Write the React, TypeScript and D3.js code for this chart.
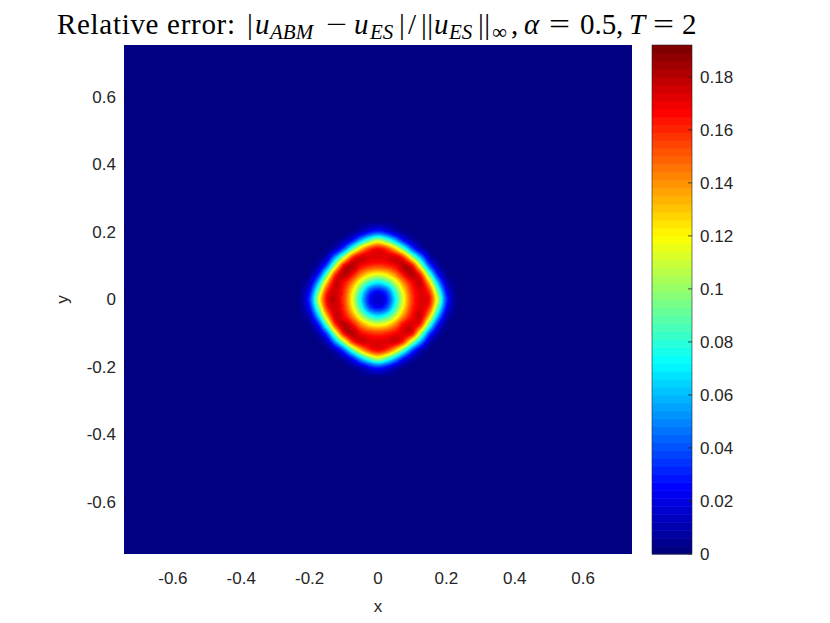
import React, { useMemo } from 'react';
import * as d3 from 'd3';

// ---------- data ----------
const xTicks = [-0.6, -0.4, -0.2, 0, 0.2, 0.4, 0.6];
const yTicks = [-0.6, -0.4, -0.2, 0, 0.2, 0.4, 0.6];
const colorTicks = [0, 0.02, 0.04, 0.06, 0.08, 0.1, 0.12, 0.14, 0.16, 0.18];
const xDomain = [-0.743, 0.743];
const yDomain = [-0.754, 0.754];
const colorMax = 0.192;

// grid node coordinates (x left->right, y top->bottom); outside the grid the error is 0
const gridX = [-0.225, -0.2, -0.175, -0.15, -0.125, -0.1, -0.075, -0.05, -0.025, 0, 0.025, 0.05, 0.075, 0.1, 0.125, 0.15, 0.175, 0.2, 0.225];
const gridY = [0.225, 0.2, 0.175, 0.15, 0.125, 0.1, 0.075, 0.05, 0.025, 0, -0.025, -0.05, -0.075, -0.1, -0.125, -0.15, -0.175, -0.2, -0.225];

// relative error estimated at grid nodes (rows follow gridY, columns follow gridX)
const errorGrid: number[][] = [
  [0, 0, 0, 0, 0, 0, 0.001, 0.003, 0.005, 0.006, 0.005, 0.003, 0.001, 0, 0, 0, 0, 0, 0],
  [0, 0, 0, 0, 0, 0.002, 0.005, 0.013, 0.026, 0.035, 0.026, 0.013, 0.005, 0.002, 0, 0, 0, 0, 0],
  [0, 0, 0, 0.001, 0.003, 0.01, 0.028, 0.06, 0.09, 0.108, 0.09, 0.06, 0.028, 0.01, 0.003, 0.001, 0, 0, 0],
  [0, 0, 0.001, 0.003, 0.013, 0.041, 0.088, 0.13, 0.157, 0.167, 0.157, 0.13, 0.088, 0.041, 0.013, 0.003, 0.001, 0, 0],
  [0, 0, 0.003, 0.013, 0.055, 0.106, 0.157, 0.175, 0.172, 0.172, 0.172, 0.175, 0.157, 0.106, 0.055, 0.013, 0.003, 0, 0],
  [0, 0.002, 0.01, 0.041, 0.106, 0.167, 0.18, 0.167, 0.16, 0.157, 0.16, 0.167, 0.18, 0.167, 0.106, 0.041, 0.01, 0.002, 0],
  [0.001, 0.005, 0.028, 0.088, 0.157, 0.18, 0.168, 0.143, 0.124, 0.117, 0.124, 0.143, 0.168, 0.18, 0.157, 0.088, 0.028, 0.005, 0.001],
  [0.003, 0.013, 0.06, 0.13, 0.175, 0.167, 0.143, 0.109, 0.082, 0.07, 0.082, 0.109, 0.143, 0.167, 0.175, 0.13, 0.06, 0.013, 0.003],
  [0.005, 0.026, 0.09, 0.157, 0.176, 0.16, 0.124, 0.082, 0.04, 0.027, 0.04, 0.082, 0.124, 0.16, 0.172, 0.157, 0.09, 0.026, 0.005],
  [0.006, 0.035, 0.108, 0.167, 0.177, 0.157, 0.117, 0.07, 0.027, 0.015, 0.027, 0.07, 0.117, 0.157, 0.172, 0.167, 0.108, 0.035, 0.006],
  [0.005, 0.026, 0.09, 0.157, 0.176, 0.16, 0.124, 0.082, 0.04, 0.027, 0.04, 0.082, 0.124, 0.16, 0.172, 0.157, 0.09, 0.026, 0.005],
  [0.003, 0.013, 0.06, 0.13, 0.175, 0.167, 0.143, 0.109, 0.082, 0.07, 0.082, 0.109, 0.143, 0.167, 0.175, 0.13, 0.06, 0.013, 0.003],
  [0.001, 0.005, 0.028, 0.088, 0.157, 0.18, 0.168, 0.143, 0.124, 0.117, 0.124, 0.143, 0.168, 0.172, 0.157, 0.088, 0.028, 0.005, 0.001],
  [0, 0.002, 0.01, 0.041, 0.106, 0.167, 0.18, 0.167, 0.16, 0.157, 0.16, 0.167, 0.172, 0.167, 0.106, 0.041, 0.01, 0.002, 0],
  [0, 0, 0.003, 0.013, 0.055, 0.106, 0.157, 0.175, 0.172, 0.172, 0.172, 0.175, 0.157, 0.106, 0.055, 0.013, 0.003, 0, 0],
  [0, 0, 0.001, 0.003, 0.013, 0.041, 0.088, 0.13, 0.157, 0.167, 0.157, 0.13, 0.088, 0.041, 0.013, 0.003, 0.001, 0, 0],
  [0, 0, 0, 0.001, 0.003, 0.01, 0.028, 0.06, 0.09, 0.108, 0.09, 0.06, 0.028, 0.01, 0.003, 0.001, 0, 0, 0],
  [0, 0, 0, 0, 0, 0.002, 0.005, 0.013, 0.026, 0.035, 0.026, 0.013, 0.005, 0.002, 0, 0, 0, 0, 0],
  [0, 0, 0, 0, 0, 0, 0.001, 0.003, 0.005, 0.006, 0.005, 0.003, 0.001, 0, 0, 0, 0, 0, 0],
];

// ---------- layout ----------
const W = 830;
const H = 623;
const plot = { left: 124, right: 632, top: 45, bottom: 554 };
const cbar = { left: 652, right: 692 };
const tickFont = '"Liberation Sans", Arial, Helvetica, sans-serif';
const serifFont = '"Liberation Serif", "Times New Roman", serif';
const textColor = '#262626';

// MATLAB-like jet(64)
const jetColors: string[] = d3.range(64).map((k) => {
  const t = k / 63;
  const c = (v: number) => Math.max(0, Math.min(1, v));
  const r = c(1.5 - Math.abs(4 * t - 3));
  const g = c(1.5 - Math.abs(4 * t - 2));
  const b = c(1.5 - Math.abs(4 * t - 1));
  return d3.rgb(r * 255, g * 255, b * 255).formatHex();
});

function cubic(p0: number, p1: number, p2: number, p3: number, t: number) {
  return p1 + 0.5 * t * (p2 - p0 + t * (2 * p0 - 5 * p1 + 4 * p2 - p3 + t * (3 * (p1 - p2) + p3 - p0)));
}

export default function App() {
  const xScale = d3.scaleLinear().domain(xDomain).range([plot.left, plot.right]);
  const yScale = d3.scaleLinear().domain(yDomain).range([plot.bottom, plot.top]);
  const cScale = d3.scaleQuantize<string>().domain([0, colorMax]).range(jetColors);
  const cbY = d3.scaleLinear().domain([0, colorMax]).range([plot.bottom, plot.top]);

  const imageHref = useMemo(() => {
    const w = plot.right - plot.left;
    const h = plot.bottom - plot.top;
    const canvas = document.createElement('canvas');
    canvas.width = w;
    canvas.height = h;
    const ctx = canvas.getContext('2d');
    if (!ctx) return '';
    const img = ctx.createImageData(w, h);
    const nR = gridY.length;
    const nC = gridX.length;
    const step = gridX[1] - gridX[0];
    const get = (r: number, c: number) => (r < 0 || c < 0 || r >= nR || c >= nC ? 0 : errorGrid[r][c]);
    for (let py = 0; py < h; py++) {
      const y = yScale.invert(plot.top + py + 0.5);
      const v = (gridY[0] - y) / step;
      const j = Math.floor(v);
      const fv = v - j;
      for (let px = 0; px < w; px++) {
        const x = xScale.invert(plot.left + px + 0.5);
        const u = (x - gridX[0]) / step;
        const i = Math.floor(u);
        const fu = u - i;
        let val = 0;
        if (i >= -3 && i <= nC + 2 && j >= -3 && j <= nR + 2) {
          const rows = [-1, 0, 1, 2].map((m) =>
            cubic(get(j + m, i - 1), get(j + m, i), get(j + m, i + 1), get(j + m, i + 2), fu)
          );
          val = cubic(rows[0], rows[1], rows[2], rows[3], fv);
        }
        val = Math.max(0, Math.min(colorMax * 0.999, val));
        const col = d3.rgb(cScale(val));
        const idx = (py * w + px) * 4;
        img.data[idx] = col.r;
        img.data[idx + 1] = col.g;
        img.data[idx + 2] = col.b;
        img.data[idx + 3] = 255;
      }
    }
    ctx.putImageData(img, 0, 0);
    return canvas.toDataURL();
  }, []);

  const bandH = (plot.bottom - plot.top) / 64;
  const tb = 34; // title baseline
  const sub = 5;
  const fs = 29;
  const sfs = 21;

  return (
    <svg
      width={W}
      height={H}
      viewBox={`0 0 ${W} ${H}`}
      style={{ position: 'absolute', left: 0, top: 0, background: '#fff' }}
    >
      <rect x={0} y={0} width={W} height={H} fill="#fff" />
      {/* title */}
      <g fontFamily={serifFont} fill="#000" fontSize={fs}>
        <text x={57} y={tb} textLength={178} lengthAdjust="spacing">Relative error:</text>
        <text x={247} y={tb}>|</text>
        <text x={255} y={tb} fontStyle="italic">u</text>
        <text x={270} y={tb + sub} fontStyle="italic" fontSize={sfs}>ABM</text>
        <text x={326} y={tb} textLength={21} lengthAdjust="spacingAndGlyphs">−</text>
        <text x={354} y={tb} fontStyle="italic">u</text>
        <text x={370} y={tb + sub} fontStyle="italic" fontSize={sfs}>ES</text>
        <text x={399} y={tb}>|</text>
        <text x={408} y={tb}>/</text>
        <text x={421} y={tb} letterSpacing={0.5}>||</text>
        <text x={434} y={tb} fontStyle="italic">u</text>
        <text x={449} y={tb + sub} fontStyle="italic" fontSize={sfs}>ES</text>
        <text x={478} y={tb} letterSpacing={0.5}>||</text>
        <text x={492} y={tb + sub} fontSize={sfs}>∞</text>
        <text x={511} y={tb}>,</text>
        <text x={524} y={tb} fontStyle="italic">α</text>
        <text x={549} y={tb} textLength={21} lengthAdjust="spacingAndGlyphs">=</text>
        <text x={580} y={tb}>0.5</text>
        <text x={616} y={tb}>,</text>
        <text x={629} y={tb} fontStyle="italic">T</text>
        <text x={653} y={tb} textLength={21} lengthAdjust="spacingAndGlyphs">=</text>
        <text x={682} y={tb}>2</text>
      </g>

      {/* heatmap */}
      <image
        href={imageHref}
        x={plot.left}
        y={plot.top}
        width={plot.right - plot.left}
        height={plot.bottom - plot.top}
        preserveAspectRatio="none"
      />

      {/* x tick labels */}
      {xTicks.map((t) => (
        <text
          key={`xt${t}`}
          x={xScale(t)}
          y={584}
          textAnchor="middle"
          fontFamily={tickFont}
          fontSize={17}
          fill={textColor}
        >
          {t === 0 ? '0' : String(t)}
        </text>
      ))}
      {/* y tick labels */}
      {yTicks.map((t) => (
        <text
          key={`yt${t}`}
          x={116}
          y={yScale(t)}
          dy="0.35em"
          textAnchor="end"
          fontFamily={tickFont}
          fontSize={17}
          fill={textColor}
        >
          {t === 0 ? '0' : String(t)}
        </text>
      ))}
      {/* axis labels */}
      <text x={xScale(0)} y={612} textAnchor="middle" fontFamily={tickFont} fontSize={17} fill={textColor}>
        x
      </text>
      <text
        transform={`translate(68,${yScale(0)}) rotate(-90)`}
        textAnchor="middle"
        fontFamily={tickFont}
        fontSize={17}
        fill={textColor}
      >
        y
      </text>

      {/* colorbar */}
      {jetColors.map((c, k) => (
        <rect
          key={`cb${k}`}
          x={cbar.left}
          y={plot.bottom - (k + 1) * bandH}
          width={cbar.right - cbar.left}
          height={bandH + 0.5}
          fill={c}
        />
      ))}
      <rect
        x={cbar.left}
        y={plot.top}
        width={cbar.right - cbar.left}
        height={plot.bottom - plot.top}
        fill="none"
        stroke={textColor}
        strokeWidth={0.6}
      />
      {colorTicks.map((t) => (
        <g key={`ct${t}`}>
          <line x1={cbar.right - 4} x2={cbar.right} y1={cbY(t)} y2={cbY(t)} stroke={textColor} strokeWidth={0.8} />
          <text
            x={700}
            y={cbY(t)}
            dy="0.35em"
            textAnchor="start"
            fontFamily={tickFont}
            fontSize={17}
            fill={textColor}
          >
            {t === 0 ? '0' : String(t)}
          </text>
        </g>
      ))}
    </svg>
  );
}
